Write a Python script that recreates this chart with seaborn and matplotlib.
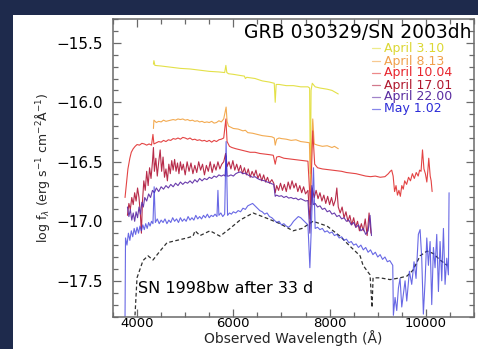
import matplotlib
matplotlib.use("Agg")
import matplotlib.pyplot as plt
import seaborn as sns
import numpy as np
from matplotlib.patches import Rectangle
from matplotlib.ticker import MultipleLocator

# ---------------- data ----------------
labels = ["April 3.10", "April 8.13", "April 10.04", "April 17.01", "April 22.00", "May 1.02"]
line_colors = ["#e2df3e", "#f2a648", "#e23a3a", "#b42040", "#6232a8", "#3636dc"]
text_colors = ["#dcd834", "#f0a04c", "#e8252d", "#b0182e", "#5a2ca0", "#2c2cd8"]

w_apr03 = [4340, 4350, 4370, 4500, 4700, 4900, 5100, 5300, 5500, 5700, 5820, 5845, 5865, 5900,
           6000, 6150, 6230, 6250, 6280, 6450, 6600, 6750, 6850, 6870, 6890, 6950, 7100, 7250,
           7400, 7550, 7585, 7600, 7615, 7640, 7700, 7800, 7950, 8050, 8180]
f_apr03 = [-15.68, -15.65, -15.69, -15.695, -15.705, -15.715, -15.72, -15.73, -15.74, -15.745,
           -15.75, -15.69, -15.75, -15.76, -15.765, -15.775, -15.78, -15.80, -15.79, -15.80,
           -15.82, -15.83, -15.84, -16.00, -15.85, -15.85, -15.86, -15.86, -15.87, -15.87,
           -15.88, -16.75, -15.90, -15.84, -15.87, -15.88, -15.89, -15.90, -15.93]

w_apr08 = [4340, 4350, 4400, 4450, 4500, 4550, 4600, 4650, 4700, 4750, 4800, 4850, 4900, 4950,
           5000, 5050, 5100, 5150, 5200, 5250, 5300, 5350, 5400, 5450, 5500, 5550, 5600, 5650,
           5700, 5750, 5800, 5850, 5870, 5900, 5950, 6000, 6100, 6200, 6250, 6300, 6400, 6500,
           6600, 6700, 6800, 6850, 6870, 6900, 6950, 7000, 7100, 7200, 7300, 7400, 7500, 7580,
           7600, 7650, 7680, 7750, 7850, 7950, 8050, 8100, 8180]
f_apr08 = [-16.22, -16.15, -16.17, -16.16, -16.165, -16.15, -16.16, -16.155, -16.15, -16.145,
           -16.15, -16.14, -16.145, -16.14, -16.15, -16.145, -16.155, -16.15, -16.16, -16.155,
           -16.165, -16.16, -16.17, -16.165, -16.17, -16.16, -16.175, -16.17, -16.155, -16.165,
           -16.14, -16.04, -16.16, -16.20, -16.21, -16.22, -16.225, -16.24, -16.235, -16.255,
           -16.26, -16.27, -16.28, -16.285, -16.29, -16.30, -16.36, -16.31, -16.30, -16.305,
           -16.31, -16.32, -16.315, -16.33, -16.335, -16.34, -16.60, -16.14, -16.35, -16.36,
           -16.37, -16.365, -16.38, -16.37, -16.39]

w_apr10 = [3750, 3780, 3810, 3850, 3880, 3920, 3960, 4000, 4050, 4100, 4150, 4200, 4250, 4300,
           4330, 4350, 4400, 4450, 4500, 4550, 4600, 4650, 4700, 4750, 4800, 4850, 4900, 4950,
           5000, 5050, 5100, 5150, 5200, 5250, 5300, 5350, 5400, 5450, 5500, 5550, 5600, 5650,
           5700, 5750, 5800, 5845, 5870, 5920, 5970, 6050, 6150, 6250, 6350, 6450, 6550, 6650,
           6750, 6830, 6870, 6900, 6950, 7050, 7150, 7250, 7350, 7450, 7550, 7600, 7650, 7690,
           7750, 7850, 7950, 8050, 8150, 8250, 8350, 8450, 8550, 8650, 8750, 8850, 8950, 9050,
           9150, 9220, 9260, 9290, 9320, 9350, 9380, 9410, 9440, 9470, 9500, 9530, 9560, 9600,
           9640, 9680, 9720, 9760, 9800, 9840, 9870, 9900, 9930, 9960, 9990, 10020, 10040,
           10060, 10090, 10110, 10130]
f_apr10 = [-16.80, -16.68, -16.56, -16.47, -16.42, -16.39, -16.37, -16.355, -16.36, -16.345,
           -16.35, -16.36, -16.35, -16.36, -16.27, -16.35, -16.34, -16.33, -16.335, -16.32,
           -16.33, -16.315, -16.32, -16.305, -16.31, -16.30, -16.31, -16.295, -16.30, -16.31,
           -16.30, -16.315, -16.31, -16.32, -16.315, -16.325, -16.32, -16.33, -16.32, -16.335,
           -16.32, -16.33, -16.315, -16.31, -16.30, -16.14, -16.33, -16.37, -16.38, -16.39,
           -16.40, -16.41, -16.42, -16.42, -16.43, -16.435, -16.44, -16.445, -16.52, -16.46,
           -16.455, -16.47, -16.475, -16.48, -16.485, -16.49, -16.495, -16.86, -16.24, -16.52,
           -16.55, -16.56, -16.565, -16.57, -16.575, -16.58, -16.59, -16.595, -16.60, -16.61,
           -16.62, -16.625, -16.62, -16.63, -16.625, -16.60, -16.58, -16.57, -16.62, -16.75,
           -16.70, -16.78, -16.74, -16.79, -16.70, -16.73, -16.66, -16.69, -16.63, -16.66,
           -16.60, -16.64, -16.59, -16.62, -16.57, -16.58, -16.40, -16.56, -16.60, -16.67,
           -16.58, -16.47, -16.62, -16.66, -16.75]

w_apr17 = [3800, 3830, 3860, 3890, 3920, 3950, 3980, 4010, 4040, 4070, 4090, 4110, 4140, 4170,
           4200, 4230, 4260, 4290, 4320, 4340, 4360, 4390, 4420, 4450, 4480, 4510, 4540, 4570,
           4600, 4630, 4660, 4690, 4720, 4750, 4780, 4810, 4840, 4870, 4900, 4930, 4960, 5000,
           5040, 5080, 5120, 5160, 5200, 5240, 5280, 5320, 5360, 5400, 5440, 5480, 5520, 5560,
           5600, 5640, 5680, 5720, 5760, 5800, 5840, 5870, 5910, 5950, 5990, 6030, 6070, 6110,
           6150, 6190, 6230, 6270, 6310, 6350, 6390, 6430, 6470, 6510, 6550, 6590, 6630, 6670,
           6710, 6750, 6800, 6840, 6870, 6900, 6940, 6980, 7020, 7060, 7100, 7140, 7180, 7220,
           7260, 7300, 7340, 7380, 7420, 7460, 7500, 7550, 7590, 7640, 7680, 7720, 7760, 7800,
           7840, 7880, 7920, 7960, 8000, 8040, 8080, 8120, 8150, 8180, 8220, 8260, 8300, 8340,
           8380, 8420, 8460, 8500, 8540, 8580, 8620, 8660, 8700, 8740, 8780, 8820, 8860]
f_apr17 = [-16.95, -16.85, -16.90, -16.80, -16.86, -16.76, -16.83, -16.72, -16.80, -16.95,
           -17.10, -16.85, -16.66, -16.74, -16.58, -16.70, -16.55, -16.64, -16.50, -16.38,
           -16.58, -16.47, -16.62, -16.50, -16.40, -16.58, -16.46, -16.63, -16.56, -16.66,
           -16.52, -16.60, -16.49, -16.57, -16.48, -16.58, -16.51, -16.60, -16.50, -16.57,
           -16.52, -16.61, -16.50, -16.58, -16.51, -16.60, -16.53, -16.59, -16.50, -16.57,
           -16.52, -16.61, -16.53, -16.58, -16.50, -16.59, -16.52, -16.57, -16.50, -16.56,
           -16.52, -16.50, -16.43, -16.54, -16.50, -16.56, -16.49, -16.57, -16.52, -16.58,
           -16.53, -16.60, -16.55, -16.61, -16.56, -16.63, -16.58, -16.62, -16.57, -16.64,
           -16.60, -16.66, -16.61, -16.67, -16.63, -16.68, -16.65, -16.68, -16.76, -16.70,
           -16.74, -16.68, -16.74, -16.69, -16.75, -16.67, -16.73, -16.66, -16.72, -16.68,
           -16.75, -16.70, -16.76, -16.71, -16.77, -16.74, -16.98, -16.72, -16.80, -16.74,
           -16.81, -16.76, -16.83, -16.78, -16.85, -16.79, -16.86, -16.80, -16.87, -16.82,
           -16.72, -16.88, -16.93, -16.88, -16.97, -16.92, -17.00, -16.95, -17.03, -16.97,
           -17.05, -17.00, -17.08, -17.02, -17.08, -16.98, -17.12, -16.93, -17.10]

w_apr22 = [3800, 3830, 3860, 3890, 3920, 3950, 3980, 4010, 4040, 4070, 4100, 4130, 4160, 4200,
           4240, 4280, 4320, 4360, 4400, 4450, 4500, 4550, 4600, 4650, 4700, 4750, 4800, 4850,
           4900, 4950, 5000, 5050, 5100, 5150, 5200, 5250, 5300, 5350, 5400, 5450, 5500, 5550,
           5600, 5650, 5700, 5750, 5800, 5830, 5850, 5870, 5900, 5950, 6000, 6050, 6100, 6150,
           6200, 6250, 6300, 6350, 6400, 6450, 6500, 6550, 6600, 6650, 6700, 6750, 6800, 6840,
           6870, 6900, 6950, 7000, 7050, 7100, 7150, 7200, 7250, 7300, 7350, 7400, 7450, 7500,
           7550, 7590, 7630, 7660, 7700, 7750, 7800, 7850, 7900, 7950, 8000, 8050, 8100, 8150,
           8200, 8250, 8300, 8350, 8400, 8450, 8500, 8550, 8600, 8650, 8700, 8750, 8800, 8840,
           8870]
f_apr22 = [-16.88, -16.96, -16.90, -16.99, -16.93, -17.00, -16.92, -16.97, -16.88, -16.94,
           -16.84, -16.88, -16.80, -16.83, -16.77, -16.80, -16.74, -16.76, -16.72, -16.75,
           -16.71, -16.73, -16.70, -16.72, -16.69, -16.71, -16.68, -16.70, -16.67, -16.69,
           -16.67, -16.68, -16.66, -16.68, -16.65, -16.67, -16.64, -16.66, -16.64, -16.65,
           -16.63, -16.64, -16.62, -16.63, -16.61, -16.62, -16.61, -16.62, -16.45, -16.62,
           -16.62, -16.61, -16.62, -16.60, -16.59, -16.585, -16.60, -16.595, -16.61, -16.62,
           -16.63, -16.625, -16.64, -16.65, -16.655, -16.66, -16.67, -16.675, -16.685, -16.69,
           -16.79, -16.78, -16.79, -16.785, -16.80, -16.79, -16.805, -16.80, -16.81, -16.805,
           -16.82, -16.81, -16.82, -16.83, -16.825, -17.10, -16.70, -16.86, -16.85, -16.88,
           -16.87, -16.90, -16.89, -16.92, -16.91, -16.94, -16.93, -16.96, -16.95, -16.98,
           -16.97, -17.00, -16.99, -17.03, -17.01, -17.05, -17.03, -17.08, -17.06, -17.11,
           -17.08, -16.95, -17.12]

w_may01 = [3750, 3760, 3790, 3820, 3850, 3880, 3910, 3940, 3970, 4000, 4030, 4060, 4090, 4120,
           4150, 4180, 4210, 4240, 4270, 4300, 4330, 4355, 4380, 4420, 4460, 4500, 4540, 4580,
           4620, 4660, 4700, 4740, 4780, 4820, 4860, 4900, 4940, 4980, 5020, 5060, 5100, 5140,
           5180, 5220, 5260, 5300, 5340, 5380, 5420, 5460, 5500, 5540, 5580, 5620, 5660, 5680,
           5700, 5740, 5780, 5820, 5850, 5880, 5920, 5960, 6000, 6050, 6100, 6150, 6200, 6250,
           6300, 6350, 6400, 6450, 6500, 6550, 6600, 6650, 6700, 6750, 6800, 6850, 6900, 6950,
           7000, 7050, 7100, 7150, 7200, 7250, 7300, 7350, 7400, 7450, 7500, 7550, 7590, 7620,
           7665, 7700, 7750, 7800, 7850, 7900, 7950, 8000, 8050, 8100, 8150, 8200, 8250, 8300,
           8350, 8400, 8450, 8500, 8550, 8600, 8650, 8700, 8750, 8800, 8850, 8900, 8950, 9000,
           9050, 9100, 9150, 9200, 9250, 9312, 9325, 9360, 9395, 9430, 9464, 9499, 9533, 9568,
           9603, 9658, 9706, 9754, 9796, 9844, 9880, 9914, 9948, 9984, 10019, 10053, 10088,
           10122, 10157, 10191, 10226, 10261, 10295, 10330, 10365, 10399, 10434, 10468, 10482]
f_may01 = [-17.80, -17.14, -17.20, -17.10, -17.16, -17.08, -17.13, -17.06, -17.11, -17.05,
           -17.10, -17.04, -17.08, -17.03, -17.07, -17.02, -17.06, -17.01, -17.04, -17.00,
           -17.02, -16.71, -17.01, -16.98, -17.02, -16.99, -17.01, -16.98, -17.02, -16.99,
           -17.01, -16.97, -17.00, -16.98, -17.01, -16.97, -17.00, -16.98, -17.00, -16.96,
           -16.99, -16.97, -16.99, -16.95, -16.98, -16.96, -16.98, -16.95, -16.97, -16.94,
           -16.97, -16.95, -16.96, -16.94, -16.96, -16.74, -16.95, -16.93, -16.96, -16.94,
           -16.33, -16.95, -16.93, -16.94, -16.92, -16.93, -16.91, -16.92, -16.89, -16.90,
           -16.87, -16.86, -16.85, -16.87, -16.89, -16.91, -16.92, -16.94, -16.93, -16.96,
           -16.97, -16.99, -17.01, -17.00, -17.03, -17.02, -17.04, -17.05, -17.03, -17.00,
           -16.98, -16.96, -16.97, -16.99, -17.01, -17.03, -17.39, -17.05, -16.55, -17.06,
           -17.05, -17.07, -17.06, -17.09, -17.08, -17.10, -17.09, -17.12, -17.11, -17.14,
           -17.13, -17.16, -17.15, -17.18, -17.17, -17.20, -17.19, -17.22, -17.20, -17.24,
           -17.22, -17.26, -17.24, -17.28, -17.26, -17.30, -17.28, -17.32, -17.30, -17.34,
           -17.33, -17.37, -17.79, -17.64, -17.75, -17.56, -17.48, -17.72, -17.61, -17.50,
           -17.67, -17.42, -17.53, -17.34, -17.48, -17.11, -17.07, -17.31, -17.78, -17.50,
           -17.14, -17.37, -17.17, -17.70, -17.22, -17.39, -17.11, -17.59, -17.17, -17.50,
           -17.06, -17.53, -17.31, -17.45, -16.76]

w_sn98bw = [3957, 3999, 4020, 4123, 4227, 4331, 4477, 4622, 4830, 5038, 5162, 5204, 5308, 5516,
            5723, 5931, 6139, 6409, 6700, 6970, 7240, 7427, 7656, 7947, 8217, 8425, 8633, 8695,
            8840, 8882, 8903, 9048, 9256, 9464, 9609, 9734, 9880, 10025, 10150, 10295, 10441]
f_sn98bw = [-17.79, -17.475, -17.45, -17.33, -17.29, -17.325, -17.25, -17.18, -17.16, -17.14,
            -17.125, -17.08, -17.12, -17.08, -17.125, -17.06, -16.99, -16.93, -16.975, -17.02,
            -17.08, -17.06, -17.00, -17.04, -17.125, -17.21, -17.29, -17.37, -17.45, -17.725,
            -17.475, -17.475, -17.49, -17.475, -17.46, -17.41, -17.29, -17.25, -17.27, -17.325,
            -17.37]

series_w = [w_apr03, w_apr08, w_apr10, w_apr17, w_apr22, w_may01]
series_f = [f_apr03, f_apr08, f_apr10, f_apr17, f_apr22, f_may01]

x_ticks = [4000, 6000, 8000, 10000]
y_ticks = [-17.5, -17.0, -16.5, -16.0, -15.5]

# ---------------- figure ----------------
sns.set_style("ticks")
plt.rcParams["font.family"] = ["DejaVu Sans"]

W, H = 478, 349
fig = plt.figure(figsize=(W / 100, H / 100), dpi=100)
fig.patch.set_facecolor("white")
navy = "#1e2a4c"
fig.patches.append(Rectangle((0, 1 - 15 / H), 1, 15 / H, transform=fig.transFigure,
                             facecolor=navy, edgecolor="none", zorder=0))
fig.patches.append(Rectangle((0, 0), 13 / W, 1, transform=fig.transFigure,
                             facecolor=navy, edgecolor="none", zorder=0))

ax_bottom_px = 316.5
ax = fig.add_axes([113 / W, (H - ax_bottom_px) / H, 361 / W, (ax_bottom_px - 19) / H])
ax.set_facecolor("white")

sns.lineplot(x=w_sn98bw, y=f_sn98bw, ax=ax, color="#303030", linewidth=0.9,
             linestyle=(0, (3, 2)), sort=False, estimator=None)
for w, f, c, lab in zip(series_w, series_f, line_colors, labels):
    alpha = 0.75 if lab == "May 1.02" else 0.95
    sns.lineplot(x=w, y=f, ax=ax, color=c, linewidth=0.8, sort=False,
                 estimator=None, alpha=alpha)

ax.set_xlim(3500, 11000)
ax.set_ylim(-17.8, -15.3)
ax.set_xticks(x_ticks)
ax.set_yticks(y_ticks)
ax.xaxis.set_minor_locator(MultipleLocator(500))
ax.yaxis.set_minor_locator(MultipleLocator(0.1))
spine_c = "#6a6a6a"
for s in ax.spines.values():
    s.set_color(spine_c)
    s.set_linewidth(1.1)
ax.tick_params(which="both", direction="in", top=True, right=True, color=spine_c,
               width=0.9, labelcolor="black")
ax.tick_params(which="major", length=6)
ax.tick_params(which="minor", length=3.5)
ax.tick_params(axis="y", pad=7, labelsize=11)
ax.tick_params(axis="x", pad=0.5, labelsize=9.5)

ax.set_xlabel("Observed Wavelength (Å)", fontsize=10, labelpad=0)
ax.set_ylabel(r"log f$_\lambda$ (erg s$^{-1}$ cm$^{-2}$Å$^{-1}$)", fontsize=9, labelpad=3)

ax.text(0.994, 0.955, "GRB 030329/SN 2003dh", transform=ax.transAxes, ha="right",
        va="center", fontsize=13.5, color="black")
ax.text(0.069, 0.093, "SN 1998bw after 33 d", transform=ax.transAxes, ha="left",
        va="center", fontsize=11.5, color="black")

rows_y = [0.902, 0.858, 0.819, 0.778, 0.738, 0.699]
for yy, lab, lc, tc in zip(rows_y, labels, line_colors, text_colors):
    ax.plot([0.717, 0.740], [yy, yy], transform=ax.transAxes, color=lc, alpha=0.6,
            linewidth=0.9)
    ax.text(0.751, yy, lab, transform=ax.transAxes, ha="left", va="center",
            fontsize=9, color=tc)

fig.savefig("out.png", dpi=100)
